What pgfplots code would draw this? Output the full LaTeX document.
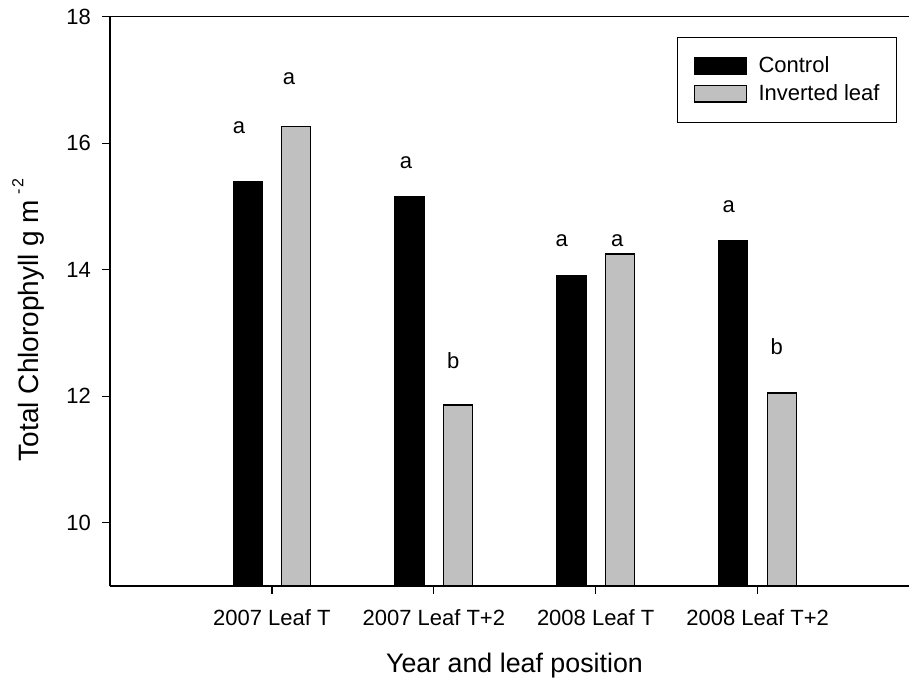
\documentclass[border=0pt]{standalone}
\usepackage{fontspec}
\setmainfont{Liberation Sans}
\usepackage{pgfplots}
\pgfplotsset{compat=1.18}
\definecolor{invgray}{RGB}{192,192,192}

\newcommand{\tickfont}{\fontsize{22bp}{26bp}\selectfont}
\newcommand{\xlabelfont}{\fontsize{26.8bp}{31bp}\selectfont}
\newcommand{\ylabelfont}{\fontsize{28bp}{33bp}\selectfont}

\begin{document}
\begin{tikzpicture}
\begin{axis}[
  name=ax,
  scale only axis,
  width=799bp, height=569.3bp,
  xmin=0, xmax=4.935,
  ymin=9, ymax=18,
  ytick={10,12,14,16,18},
  xtick={1,2,3,4},
  xticklabels={2007 Leaf T, 2007 Leaf T+2, 2008 Leaf T, 2008 Leaf T+2},
  axis lines*=left,
  tick align=outside,
  major tick length=8bp,
  every tick/.style={black, line width=1.2bp},
  axis line style={line width=1.2bp, black},
  /pgf/number format/assume math mode=true,
  ticklabel style={font=\tickfont},
  xticklabel style={anchor=base, yshift=-32bp},
  yticklabel style={anchor=east, inner sep=0bp, xshift=-11bp},
  ybar,
  legend style={at={(rel axis cs:0.9846,0.9649)}, anchor=north east,
    draw=black, line width=1.2bp, font=\tickfont,
    inner xsep=16.5bp, inner ysep=19.7bp, row sep=10.4bp,
    nodes={inner sep=0bp},
    /tikz/every odd column/.append style={column sep=11.4bp}},
  legend cell align=left,
]
% Control
\addplot[ybar, bar width=29bp, bar shift=-24.3bp, fill=black, draw=black, line width=1.2bp,
  legend image code/.code={\draw[fill=black, draw=black, line width=1.2bp] (0bp,-8.2bp) rectangle (52bp,8.2bp);}]
  coordinates {(1,15.39) (2,15.15) (3,13.90) (4,14.46)};
\addlegendentry{Control}
% Inverted leaf
\addplot[ybar, bar width=29bp, bar shift=24.3bp, fill=invgray, draw=black, line width=1.2bp,
  legend image code/.code={\draw[fill=invgray, draw=black, line width=1.2bp] (0bp,-8.2bp) rectangle (52bp,8.2bp);}]
  coordinates {(1,16.26) (2,11.86) (3,14.25) (4,12.05)};
\addlegendentry{Inverted leaf}

% significance letters
\node[font=\tickfont] at (axis cs:0.797,16.24) {a};
\node[font=\tickfont] at (axis cs:1.106,17.015) {a};
\node[font=\tickfont] at (axis cs:1.828,15.69) {a};
\node[font=\tickfont] at (axis cs:2.120,12.56) {b};
\node[font=\tickfont] at (axis cs:2.790,14.46) {a};
\node[font=\tickfont] at (axis cs:3.133,14.46) {a};
\node[font=\tickfont] at (axis cs:3.821,14.99) {a};
\node[font=\tickfont] at (axis cs:4.118,12.78) {b};
\end{axis}

% top and bottom frame lines, running to the right edge
\draw[line width=1.2bp, black] (ax.north west) -- ([xshift=20bp]ax.north east);
\draw[line width=1.2bp, black] (ax.south west) -- ([xshift=20bp]ax.south east);

% axis titles
\node[rotate=90, anchor=base, font=\ylabelfont] at ([xshift=-71.7bp, yshift=266bp]ax.south west)
  {Total Chlorophyll g m\kern5bp\raisebox{15bp}{\fontsize{16bp}{19bp}\selectfont -\kern1.5bp 2}};
\node[anchor=base, font=\xlabelfont] at ([xshift=404.5bp, yshift=-86.7bp]ax.south west)
  {Year and leaf position};

\pgfresetboundingbox
\path ([xshift=-110bp, yshift=-97bp]ax.south west) rectangle ([yshift=16.7bp]ax.north east);
\end{tikzpicture}
\end{document}
